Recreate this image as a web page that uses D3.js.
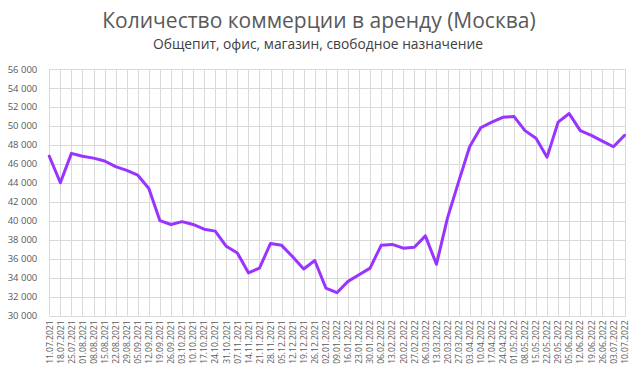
<!DOCTYPE html>
<html>
<head>
<meta charset="utf-8">
<script src="https://cdn.jsdelivr.net/npm/d3@7"></script>
<style>
  body { margin: 0; background: #fff; }
  svg { display: block; font-family: "Open Sans", "Noto Sans", sans-serif; }
</style>
</head>
<body>
<svg id="chart" width="637" height="369"></svg>
<script>
// weekly dates
var dates = [
  "11.07.2021","18.07.2021","25.07.2021","01.08.2021","08.08.2021","15.08.2021","22.08.2021",
  "29.08.2021","05.09.2021","12.09.2021","19.09.2021","26.09.2021","03.10.2021","10.10.2021",
  "17.10.2021","24.10.2021","31.10.2021","07.11.2021","14.11.2021","21.11.2021","28.11.2021",
  "05.12.2021","12.12.2021","19.12.2021","26.12.2021","02.01.2022","09.01.2022","16.01.2022",
  "23.01.2022","30.01.2022","06.02.2022","13.02.2022","20.02.2022","27.02.2022","06.03.2022",
  "13.03.2022","20.03.2022","27.03.2022","03.04.2022","10.04.2022","17.04.2022","24.04.2022",
  "01.05.2022","08.05.2022","15.05.2022","22.05.2022","29.05.2022","05.06.2022","12.06.2022",
  "19.06.2022","26.06.2022","03.07.2022","10.07.2022"
];
var counts = [
  46800, 44000, 47100, 46800, 46600, 46300, 45700,
  45300, 44800, 43400, 40000, 39600, 39900, 39600,
  39100, 38900, 37300, 36600, 34500, 35000, 37600,
  37400, 36200, 34900, 35800, 32900, 32400, 33600,
  34300, 35000, 37400, 37500, 37100, 37200, 38400,
  35400, 40300, 44100, 47800, 49800, 50400, 50900,
  51000, 49500, 48700, 46700, 50400, 51300, 49500,
  49000, 48400, 47800, 49000
];
var yTicks = d3.range(30000, 56001, 2000);
var title = "Количество коммерции в аренду (Москва)";
var subtitle = "Общепит, офис, магазин, свободное назначение";

(function () {
  var svg = d3.select("#chart");
  var mLeft = 49.3, mRight = 624.5, mTop = 69, mBottom = 315.5;

  var x = d3.scalePoint().domain(dates).range([mLeft, mRight]);
  var y = d3.scaleLinear().domain([30000, 56000]).range([mBottom, mTop]);

  var fmt = function (v) { return d3.format(",")(v).replace(/,/g, " "); };

  // horizontal grid
  svg.append("g").selectAll("line").data(yTicks).enter().append("line")
    .attr("x1", mLeft).attr("x2", mRight + 1.5)
    .attr("y1", function (d) { return Math.round(y(d)) + 0.5; })
    .attr("y2", function (d) { return Math.round(y(d)) + 0.5; })
    .attr("stroke", "#d9d9d9").attr("stroke-width", 1);

  // vertical grid
  svg.append("g").selectAll("line").data(dates).enter().append("line")
    .attr("x1", function (d) { return Math.round(x(d)) + 0.5; })
    .attr("x2", function (d) { return Math.round(x(d)) + 0.5; })
    .attr("y1", mTop).attr("y2", mBottom)
    .attr("stroke", "#d9d9d9").attr("stroke-width", 1);

  // y axis labels
  var yAxis = d3.axisLeft(y).tickValues(yTicks).tickSize(0).tickPadding(12).tickFormat(fmt);
  var gy = svg.append("g").attr("transform", "translate(" + mLeft + ",0)").call(yAxis);
  gy.select(".domain").remove();
  gy.selectAll("text").attr("fill", "#595959").style("font-size", "9.5px")
    .style("font-family", "'Open Sans', sans-serif");

  // x axis labels
  var xAxis = d3.axisBottom(x).tickSize(0).tickPadding(0);
  var gx = svg.append("g").attr("transform", "translate(0," + mBottom + ")").call(xAxis);
  gx.select(".domain").remove();
  gx.selectAll("text")
    .attr("fill", "#595959").style("font-size", "8.5px")
    .style("font-family", "'Open Sans', sans-serif")
    .attr("text-anchor", "end")
    .attr("transform", "rotate(-90)")
    .attr("x", -5).attr("y", 0).attr("dy", "0.32em");

  // line
  var line = d3.line()
    .x(function (d, i) { return x(dates[i]); })
    .y(function (d) { return y(d); });
  svg.append("path").datum(counts)
    .attr("d", line)
    .attr("fill", "none")
    .attr("stroke", "#9933ff")
    .attr("stroke-width", 3)
    .attr("stroke-linejoin", "round")
    .attr("stroke-linecap", "round");

  // titles
  svg.append("text").attr("x", 319).attr("y", 28).attr("text-anchor", "middle")
    .attr("fill", "#595959").style("font-size", "21px").text(title);
  svg.append("text").attr("x", 318).attr("y", 49).attr("text-anchor", "middle")
    .attr("fill", "#404040").style("font-size", "13.8px").text(subtitle);
})();
</script>
</body>
</html>
